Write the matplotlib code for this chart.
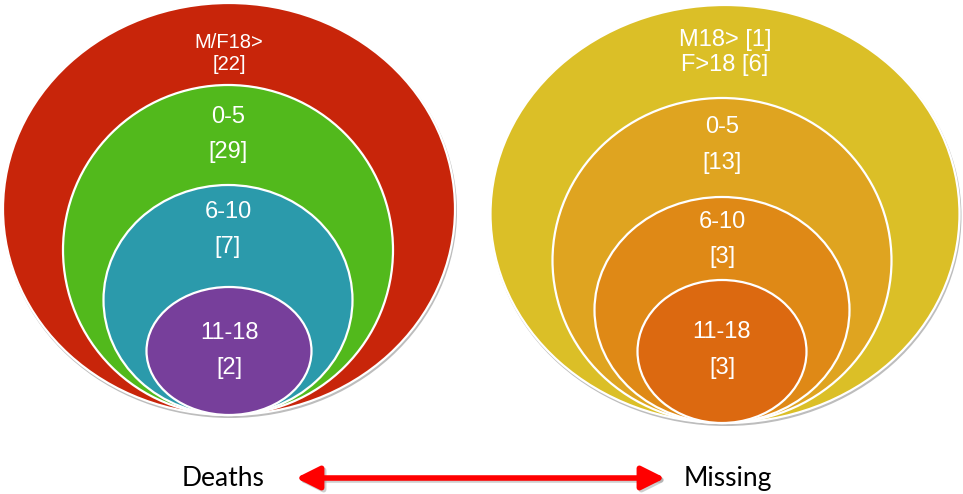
import matplotlib.pyplot as plt
from matplotlib.patches import Ellipse, FancyArrowPatch

# =============================================================================
# DATA
# =============================================================================
death_groups = ["M/F18>", "0-5", "6-10", "11-18"]
death_counts = [22, 29, 7, 2]

missing_groups = ["M18>", "0-5", "6-10", "11-18"]
missing_counts = [1, 13, 3, 3]
missing_female_adult = ("F>18", 6)

side_titles = ["Deaths", "Missing"]

death_colors = ["#C8250A", "#52B91C", "#2B9AAB", "#773F9B"]
missing_colors = ["#DBBF27", "#DFA420", "#DF8916", "#DC6910"]

# =============================================================================
# LAYOUT (pixel space, y downward)
# ellipse: (center x, width, top y) ; all share the same bottom
# =============================================================================
left_layout = dict(bottom=415, shapes=[(229, 452, 3), (228, 330, 85),
                                       (228, 249, 185), (229, 165, 287)],
                   label_y=[(42, 65), (117, 152), (212, 247), (333, 368)],
                   fs=[14.5, 17, 17, 17])
right_layout = dict(bottom=423, shapes=[(725, 469, 5), (722, 339, 98),
                                        (722, 255, 197), (722, 169, 280)],
                    label_y=[(40, 65), (127, 163), (222, 257), (332, 368)],
                    fs=[17, 17, 17, 17])

W, H = 963, 494
fig = plt.figure(figsize=(W / 100, H / 100), dpi=100)
ax = fig.add_axes([0, 0, 1, 1])
ax.set_xlim(0, W)
ax.set_ylim(H, 0)
ax.axis("off")


def draw_nest(layout, colors):
    bottom = layout["bottom"]
    for i, ((cx, w, top), col) in enumerate(zip(layout["shapes"], colors)):
        h = bottom - top
        cy = top + h / 2
        if i == 0:
            # soft shadow under the outer ellipse
            ax.add_patch(Ellipse((cx + 1, cy + 2), w + 2, h + 2,
                                 facecolor="#bdbdbd", edgecolor="none", zorder=1))
        ax.add_patch(Ellipse((cx, cy), w, h, facecolor=col,
                             edgecolor="white", linewidth=1.6, zorder=2 + i))


draw_nest(left_layout, death_colors)
draw_nest(right_layout, missing_colors)

txt = dict(color="white", ha="center", va="center", zorder=10,
           family=["Liberation Sans", "DejaVu Sans"])

# Deaths labels
for i, (g, c) in enumerate(zip(death_groups, death_counts)):
    cx = left_layout["shapes"][i][0]
    y1, y2 = left_layout["label_y"][i]
    ax.text(cx, y1, g, fontsize=left_layout["fs"][i], **txt)
    ax.text(cx, y2, f"[{c}]", fontsize=left_layout["fs"][i], **txt)

# Missing labels
for i, (g, c) in enumerate(zip(missing_groups, missing_counts)):
    cx = right_layout["shapes"][i][0]
    y1, y2 = right_layout["label_y"][i]
    if i == 0:
        ax.text(cx, y1, f"{g} [{c}]", fontsize=right_layout["fs"][i], **txt)
        ax.text(cx, y2, f"{missing_female_adult[0]} [{missing_female_adult[1]}]",
                fontsize=right_layout["fs"][i], **txt)
    else:
        ax.text(cx, y1, g, fontsize=right_layout["fs"][i], **txt)
        ax.text(cx, y2, f"[{c}]", fontsize=right_layout["fs"][i], **txt)

# bottom titles and arrow
ax.text(223, 478, side_titles[0], fontsize=19, ha="center", va="center",
        color="black", family=["Lato", "DejaVu Sans"])
ax.text(728, 478, side_titles[1], fontsize=19, ha="center", va="center",
        color="black", family=["Lato", "DejaVu Sans"])

arrow_style = "<|-|>,head_length=14,head_width=7"
ax.add_patch(FancyArrowPatch((298, 480), (667, 480), arrowstyle=arrow_style,
                             color="#9e9e9e", linewidth=4, alpha=0.5, zorder=4,
                             shrinkA=0, shrinkB=0, mutation_scale=1))
ax.add_patch(FancyArrowPatch((296, 478), (665, 478), arrowstyle=arrow_style,
                             color="#FF0000", linewidth=4, zorder=5,
                             shrinkA=0, shrinkB=0, mutation_scale=1))

fig.savefig("out.png", dpi=100, facecolor="white")
